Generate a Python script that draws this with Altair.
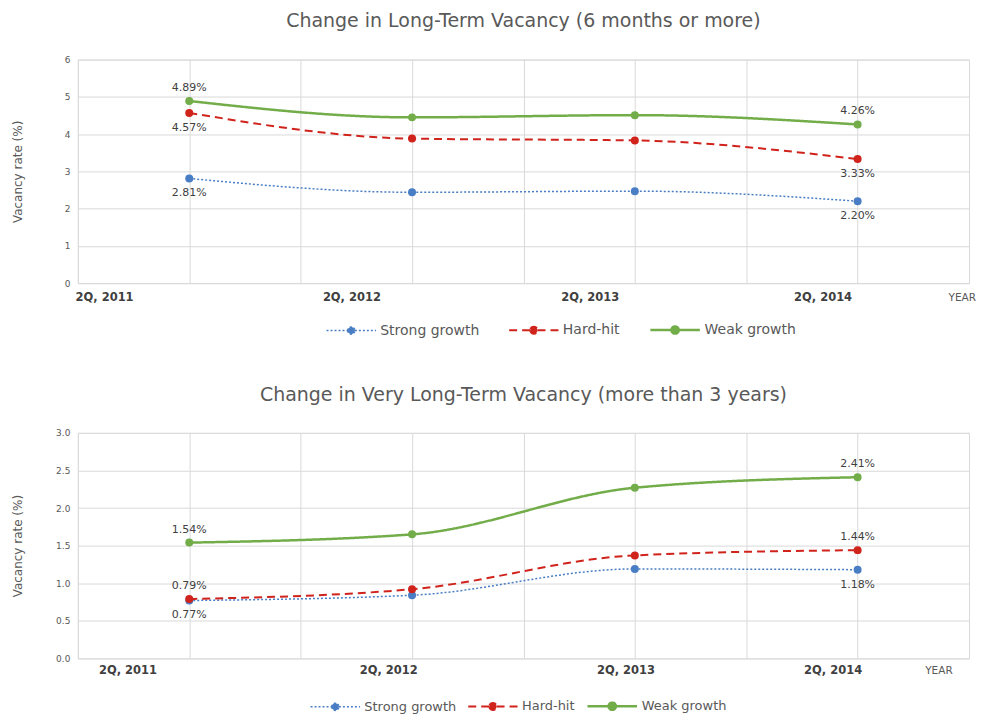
import altair as alt
import pandas as pd

# ---------------- data ----------------
series = ["Strong growth", "Hard-hit", "Weak growth"]
colors = ["#4a7ec4", "#d0231c", "#72ad4a"]
dashes = [[2, 2], [8, 5], [1, 0]]
widths = [1.5, 2.5, 2.5]

# category slots on a 0..8 grid (points sit on the odd slots)
point_slots = [1, 3, 5, 7]

tick_labels = ["2Q, 2011", "2Q, 2012", "2Q, 2013", "2Q, 2014", "YEAR"]
top_tick_slots = [0.24, 2.46, 4.6, 6.69, 7.94]
bottom_tick_slots = [0.45, 2.79, 4.92, 6.78, 7.73]

# Long-term vacancy (6 months or more), %
lt_strong = [2.81, 2.44, 2.47, 2.20]
lt_hard = [4.57, 3.88, 3.83, 3.33]
lt_weak = [4.89, 4.45, 4.51, 4.26]

# Very long-term vacancy (more than 3 years), %
vlt_strong = [0.77, 0.84, 1.19, 1.18]
vlt_hard = [0.79, 0.92, 1.37, 1.44]
vlt_weak = [1.54, 1.65, 2.27, 2.41]

# which side of the point the end labels sit on
lt_label_side = {"Strong growth": "below", "Hard-hit": "below", "Weak growth": "above"}
vlt_label_side = {"Strong growth": "below", "Hard-hit": "above", "Weak growth": "above"}

FONT = "DejaVu Sans"
TXT = "#595959"
GRID = "#d9d9d9"
# line with a dot in the middle (in units of the 16px symbol box / 2)
LEGEND_SYMBOL = ("M-3.1,0L-0.45,0M0.45,0L3.1,0"
                 "M-0.45,0A0.45,0.45 0 1,0 0.45,0A0.45,0.45 0 1,0 -0.45,0")


def long_df(strong, hard, weak, sides):
    rows = []
    for name, vals in zip(series, [strong, hard, weak]):
        for i, (s, v) in enumerate(zip(point_slots, vals)):
            rows.append({
                "series": name,
                "slot": s,
                "value": v,
                "label": f"{v:.2f}%" if i in (0, len(vals) - 1) else "",
                "side": sides[name],
            })
    return pd.DataFrame(rows)


def panel(df, title, ymax, yvalues, yfmt, tick_slots, h, legend_x, legend_y,
          legend_font, legend_pad, tick_dy, title_offset):
    x = alt.X("slot:Q",
              scale=alt.Scale(domain=[0, 8], nice=False, zero=False),
              axis=alt.Axis(values=list(range(9)), labels=False, ticks=False,
                            domain=False, title=None, grid=True, gridColor=GRID))
    y = alt.Y("value:Q",
              scale=alt.Scale(domain=[0, ymax], nice=False),
              axis=alt.Axis(values=yvalues, format=yfmt, title="Vacancy rate (%)",
                            grid=True, gridColor=GRID, domain=False, ticks=False,
                            labelColor=TXT, labelFontSize=9, labelFont=FONT,
                            labelPadding=8, titleColor=TXT, titleFontSize=12,
                            titleFont=FONT, titleFontWeight="normal", titleX=-53))
    leg = alt.Legend(orient="none", legendX=legend_x, legendY=legend_y,
                     direction="horizontal", title=None,
                     symbolType=LEGEND_SYMBOL, symbolSize=256, symbolOffset=17,
                     symbolStrokeWidth=1.5,
                     labelFont=FONT, labelFontSize=legend_font, labelColor=TXT,
                     columnPadding=legend_pad, labelOffset=20)
    color = alt.Color("series:N", scale=alt.Scale(domain=series, range=colors), legend=leg)
    dash = alt.StrokeDash("series:N", scale=alt.Scale(domain=series, range=dashes), legend=leg)
    sw = alt.StrokeWidth("series:N", scale=alt.Scale(domain=series, range=widths), legend=None)

    base = alt.Chart(df)
    lines = base.mark_line(interpolate="monotone").encode(x=x, y=y, color=color,
                                                          strokeDash=dash, strokeWidth=sw)
    pts = base.mark_circle(size=64, opacity=1).encode(x=x, y=y, color=color)
    above = base.transform_filter("datum.side == 'above' && datum.label != ''").mark_text(
        dy=-13, font=FONT, fontSize=11, color="#404040").encode(x=x, y=y, text="label:N")
    below = base.transform_filter("datum.side == 'below' && datum.label != ''").mark_text(
        dy=15, font=FONT, fontSize=11, color="#404040").encode(x=x, y=y, text="label:N")

    tdf = pd.DataFrame({"slot": tick_slots, "tick": tick_labels})
    tbase = alt.Chart(tdf)
    ticks = tbase.transform_filter("datum.tick != 'YEAR'").mark_text(
        font=FONT, fontSize=11.5, color="#404040", fontWeight="bold").encode(
        x=alt.X("slot:Q"), y=alt.value(h + tick_dy), text="tick:N")
    year = tbase.transform_filter("datum.tick == 'YEAR'").mark_text(
        font=FONT, fontSize=10.5, color=TXT).encode(
        x=alt.X("slot:Q"), y=alt.value(h + tick_dy), text="tick:N")

    return alt.layer(lines, pts, above, below, ticks, year).properties(
        width=893, height=h,
        title=alt.TitleParams(title, font=FONT, fontSize=19, color=TXT,
                              fontWeight="normal", offset=title_offset, anchor="middle"),
    )


top = panel(long_df(lt_strong, lt_hard, lt_weak, lt_label_side),
            "Change in Long-Term Vacancy (6 months or more)",
            6, [0, 1, 2, 3, 4, 5, 6], "d", top_tick_slots, 224,
            248, 261, 14, 25, 15, 25)
bottom = panel(long_df(vlt_strong, vlt_hard, vlt_weak, vlt_label_side),
               "Change in Very Long-Term Vacancy (more than 3 years)",
               3, [0, 0.5, 1, 1.5, 2, 2.5, 3], ".1f", bottom_tick_slots, 226,
               232, 264, 13, 7, 13, 24)

chart = alt.vconcat(top, bottom, spacing=45).resolve_scale(
    y="independent", color="independent", strokeDash="independent",
    strokeWidth="independent").resolve_legend(
    color="independent", strokeDash="independent").properties(
    padding={"left": 3, "top": 2, "right": 0, "bottom": 0}
).configure_view(strokeWidth=0).configure(background="white")

chart.save("out.html", embed_options={"renderer": "svg", "actions": False})
